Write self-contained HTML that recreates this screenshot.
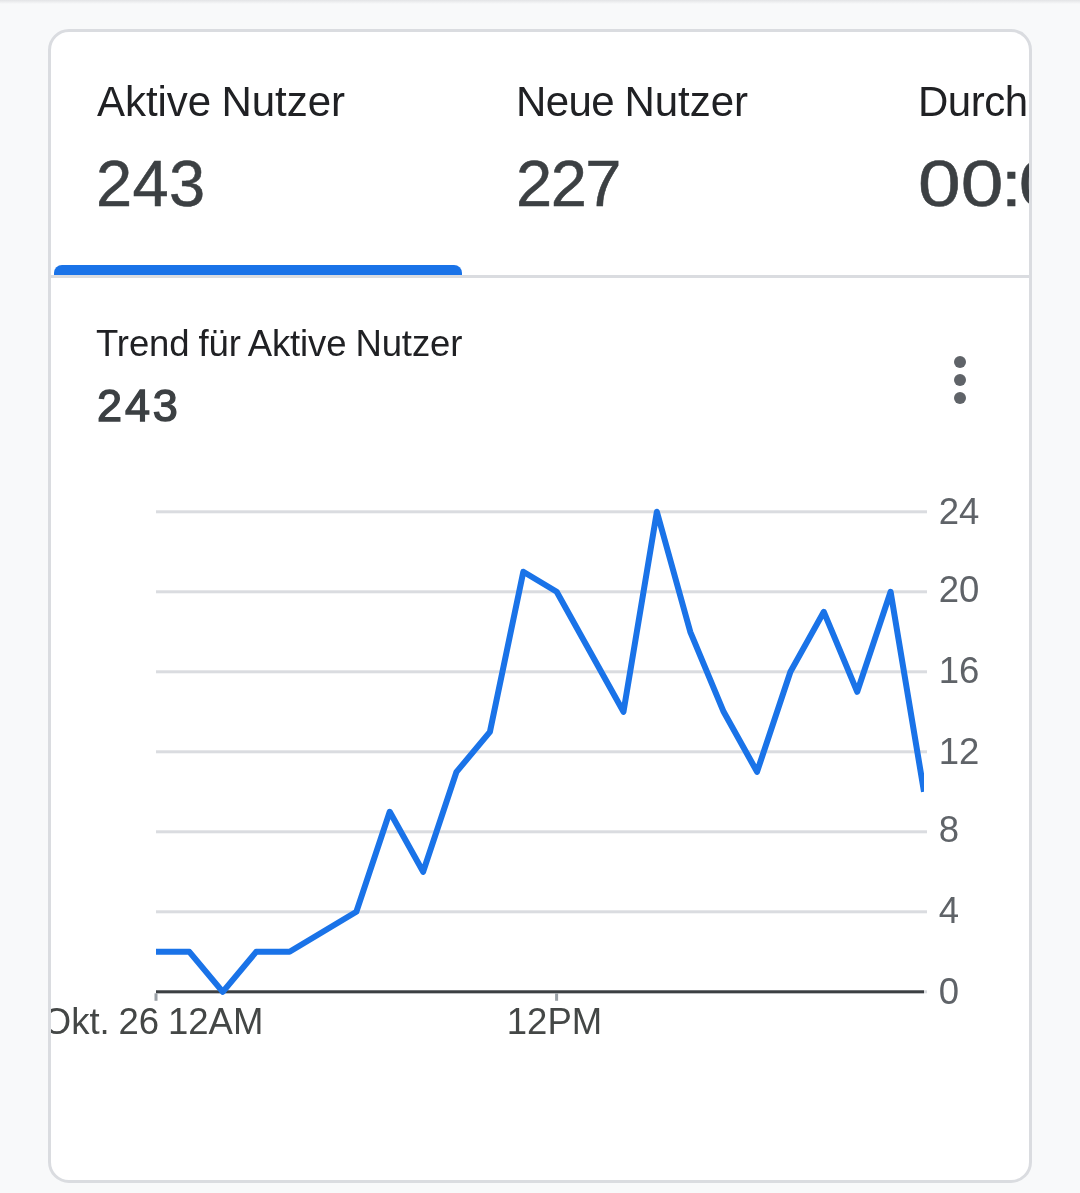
<!DOCTYPE html>
<html lang="de"><head><meta charset="utf-8"><title>Aktive Nutzer</title>
<style>
html,body{margin:0;padding:0}
body{width:1080px;height:1193px;overflow:hidden;background:#f8f9fa;position:relative;font-family:"Liberation Sans",Arial,sans-serif;}
.topshade{position:absolute;left:0;top:0;width:1080px;height:4px;background:linear-gradient(#e3e4e6,#f8f9fa)}
.card{position:absolute;left:48px;top:29px;width:978px;height:1148px;border:3px solid #dadce0;border-radius:21px;background:#fff;overflow:hidden}
.abs{position:absolute;white-space:nowrap;line-height:1;will-change:transform}
.lbl{font-size:42px;color:#202124}
.num{font-size:65px;color:#3c4043;-webkit-text-stroke:0.5px #3c4043}
.bar{position:absolute;left:3px;top:233px;width:408px;height:10px;background:#1a73e8;border-radius:8px 8px 0 0}
.div{position:absolute;left:0;top:243px;width:978px;height:3px;background:#dadce0}
.t1{font-size:36.5px;color:#202124}
.t2{font-size:45px;letter-spacing:2.9px;font-weight:normal;-webkit-text-stroke:1.4px #3c4043;color:#3c4043}
.dot{position:absolute;width:12px;height:12px;border-radius:50%;background:#5f6368;left:903px}
svg{position:absolute;left:-51px;top:-32px;will-change:transform}
svg text{font-family:"Liberation Sans",Arial,sans-serif;font-size:36.5px}
</style></head><body>
<div class="topshade"></div>
<div class="card">
  <div class="abs lbl" id="l1" style="left:46px;top:49px;word-spacing:-1.3px;letter-spacing:-0.04px">Aktive Nutzer</div>
  <div class="abs num" id="n1" style="left:45px;top:119px;letter-spacing:0.3px">243</div>
  <div class="abs lbl" id="l2" style="left:464.75px;top:49px;word-spacing:-1.3px"><span style="letter-spacing:-0.6px">Neue</span> Nutzer</div>
  <div class="abs num" id="n2" style="left:464.6px;top:119px;letter-spacing:-1.5px">227</div>
  <div class="abs lbl" id="l3" style="left:866.7px;top:49px;letter-spacing:-0.5px">Durch<span style="margin-left:4px">schnittliche Interaktionsdauer</span></div>
  <div class="abs num" id="n3" style="left:867.4px;top:119px;transform:scaleX(1.18);transform-origin:0 0">0<span style="letter-spacing:-2.1px">0</span><span style="letter-spacing:-3px">:</span>00:48</div>
  <div class="bar"></div>
  <div class="div"></div>
  <div class="abs t1" id="t1" style="left:44.9px;top:293.5px;word-spacing:-1.1px;letter-spacing:-0.1px">Trend für Aktive Nutzer</div>
  <div class="abs t2" id="t2" style="left:45.7px;top:351.2px">243</div>
  <div class="dot" style="top:324px"></div><div class="dot" style="top:342px"></div><div class="dot" style="top:360px"></div>
  <svg width="1080" height="1193" viewBox="0 0 1080 1193">
    <defs><clipPath id="cp"><rect x="156" y="480" width="768" height="530"/></clipPath></defs>
    <rect x="156" y="510.3" width="771" height="3" fill="#dadce0"/><rect x="156" y="590.3" width="771" height="3" fill="#dadce0"/><rect x="156" y="670.3" width="771" height="3" fill="#dadce0"/><rect x="156" y="750.3" width="771" height="3" fill="#dadce0"/><rect x="156" y="830.3" width="771" height="3" fill="#dadce0"/><rect x="156" y="910.3" width="771" height="3" fill="#dadce0"/><rect x="156" y="990.3" width="771" height="3" fill="#dadce0"/>
    <rect x="156" y="990.3" width="768" height="3" fill="#3c4043"/>
    <rect x="154.5" y="993.3" width="3" height="7.5" fill="#9aa0a6"/>
    <rect x="555.1" y="993.3" width="3" height="7.5" fill="#9aa0a6"/>
    <polyline clip-path="url(#cp)" points="156.00,951.8 189.39,951.8 222.78,991.8 256.17,951.8 289.57,951.8 322.96,931.8 356.35,911.8 389.74,811.8 423.13,871.8 456.52,771.8 489.91,731.8 523.30,571.8 556.70,591.8 590.09,651.8 623.48,711.8 656.87,511.8 690.26,631.8 723.65,711.8 757.04,771.8 790.43,671.8 823.83,611.8 857.22,691.8 890.61,591.8 924.00,791.8" fill="none" stroke="#1a73e8" stroke-width="6" stroke-linejoin="round" stroke-linecap="butt"/>
    <g fill="#5f6368"><text x="938.8" y="1004.1">0</text><text x="938.8" y="923.2">4</text><text x="938.8" y="842.2">8</text><text x="938.8" y="764.1">12</text><text x="938.8" y="683.2">16</text><text x="938.8" y="602.2">20</text><text x="938.8" y="524.1">24</text></g>
    <g fill="#444746">
      <text id="x1" x="263.3" y="1033.7" text-anchor="end" style="word-spacing:-1.3px">Okt. 26 12AM</text>
      <text id="x2" x="554.5" y="1033.7" text-anchor="middle">12PM</text>
    </g>
  </svg>
</div>
</body></html>
